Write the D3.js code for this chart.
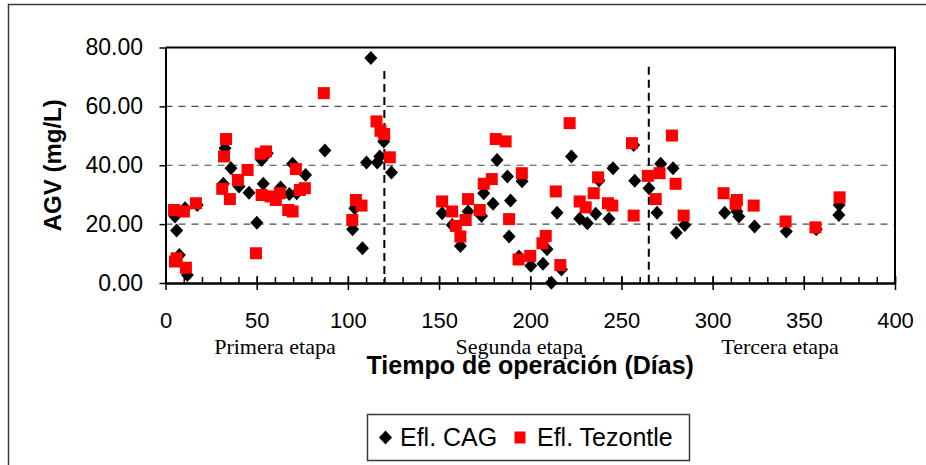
<!DOCTYPE html>
<html>
<head>
<meta charset="utf-8">
<script src="https://cdn.jsdelivr.net/npm/d3@7"></script>
<style>
    body { margin: 0; background: #fff; }
    svg { display: block; }
</style>
</head>
<body>
<svg id="chart" width="926" height="465"></svg>
<script>
// Efl. CAG (black diamonds) : [dias, AGV mg/L]
var cag = [
    [5.2, 22.6], [6.1, 17.8], [7.6, 9.5], [10.7, 25.4], [12.0, 2.7], [17.4, 26.5],
    [31.7, 33.7], [32.6, 45.8], [35.9, 39.0], [40.3, 32.8], [45.8, 30.7], [50.1, 20.5],
    [52.7, 41.8], [53.6, 33.7], [55.8, 44.1], [63.1, 32.4], [67.9, 30.2], [69.7, 40.5],
    [71.9, 30.5], [76.8, 36.7], [87.4, 45.0],
    [102.6, 18.3], [103.8, 25.4], [108.0, 11.8], [110.2, 40.9], [112.6, 76.4], [116.1, 40.9],
    [117.5, 43.0], [119.7, 48.1], [123.9, 37.5],
    [151.7, 23.7], [157.2, 19.7], [161.7, 12.6], [165.9, 24.3], [173.3, 22.8], [174.5, 30.5],
    [179.6, 26.9], [181.8, 41.8], [187.5, 36.2], [188.4, 15.8], [189.2, 28.0], [193.8, 9.0],
    [195.5, 34.6], [200.3, 5.9], [207.0, 6.5], [209.2, 11.5], [211.6, 0.1], [214.7, 23.9],
    [217.1, 4.6], [222.6, 43.0], [227.1, 21.8], [231.3, 20.3], [235.9, 23.5], [237.7, 34.8],
    [243.2, 21.8], [245.4, 39.0], [256.7, 46.9], [257.3, 34.7], [265.1, 32.2], [269.5, 23.9],
    [271.5, 40.5], [278.3, 39.0], [280.1, 17.1], [284.7, 19.7],
    [306.6, 23.9], [313.3, 24.3], [314.4, 22.6], [323.0, 19.2], [340.4, 17.5], [356.8, 18.3],
    [369.2, 23.1], [369.4, 26.5]
];

// Efl. Tezontle (red squares)
var tez = [
    [4.7, 24.8], [5.2, 7.3], [6.1, 8.4], [10.1, 24.3], [11.2, 5.2], [16.7, 27.1],
    [31.1, 32.0], [32.1, 43.0], [33.2, 48.9], [35.3, 28.5], [39.7, 35.0], [45.0, 38.4],
    [49.6, 10.1], [52.2, 43.9], [52.7, 29.9], [55.1, 44.7], [57.6, 29.4], [60.5, 28.2],
    [62.7, 30.5], [67.3, 24.8], [69.7, 24.3], [71.5, 38.7], [73.7, 31.6], [76.4, 32.2],
    [86.8, 64.5],
    [102.4, 21.4], [104.4, 28.2], [107.5, 26.3], [115.7, 54.9], [117.9, 51.7], [119.9, 50.6],
    [123.0, 42.7],
    [151.7, 27.7], [157.2, 24.3], [159.2, 19.4], [161.7, 15.8], [164.6, 21.4], [165.9, 28.5],
    [172.3, 24.8], [174.5, 33.7], [178.9, 35.3], [181.1, 48.9], [186.5, 48.1], [188.4, 21.7],
    [193.6, 8.0], [195.4, 37.3], [200.0, 9.2], [206.7, 13.5], [208.5, 16.0], [214.0, 31.1],
    [216.5, 6.1], [221.6, 54.3], [227.1, 27.7], [230.4, 25.7], [234.8, 30.5], [237.2, 35.9],
    [242.6, 27.1], [245.0, 26.3], [255.8, 47.5], [256.7, 22.9], [264.5, 36.4], [268.8, 28.5],
    [270.9, 37.3], [277.7, 50.1], [279.7, 33.7], [284.1, 22.9],
    [306.0, 30.5], [312.6, 26.9], [313.3, 28.2], [322.5, 26.3], [340.0, 20.9], [356.4, 18.9],
    [369.6, 29.1]
];

var xTicks = [0, 50, 100, 150, 200, 250, 300, 350, 400];
var yTicks = [0, 20, 40, 60, 80];
var gridValues = [20, 40, 60];
// stage separators (dias) and where their dashes start (AGV)
var stageLines = [[120, 72], [265, 73.5]];
var stageLabels = [["Primera etapa", 60], ["Segunda etapa", 194], ["Tercera etapa", 337]];
var seriesNames = ["Efl. CAG", "Efl. Tezontle"];

var svg = d3.select("#chart");

var margin = {top: 47.5, right: 31, bottom: 182, left: 165.5};
var W = 926, H = 465;

var xscale = d3.scaleLinear().domain([0, 400]).range([margin.left, W - margin.right]);
var yscale = d3.scaleLinear().domain([0, 80]).range([H - margin.bottom, margin.top]);

// outer chart frame (cut by the picture edge on right/bottom)
svg.append("rect")
    .attr("x", 8.5).attr("y", 4.5)
    .attr("width", 1000).attr("height", 600)
    .attr("fill", "none")
    .attr("stroke", "#3a3a3a")
    .attr("stroke-width", 1.5);

// horizontal dashed gridlines
svg.append("g").selectAll("line")
    .data(gridValues)
    .join("line")
    .attr("x1", xscale(0)).attr("x2", xscale(400))
    .attr("y1", d => yscale(d)).attr("y2", d => yscale(d))
    .attr("stroke", "#4a4a4a")
    .attr("stroke-width", 1.2)
    .attr("stroke-dasharray", "7,6");

// top and right plot borders
svg.append("path")
    .attr("d", "M" + xscale(0) + "," + yscale(80) + "H" + xscale(400) + "V" + yscale(0))
    .attr("fill", "none")
    .attr("stroke", "#000")
    .attr("stroke-width", 2);

// stage separators
svg.append("g").selectAll("line")
    .data(stageLines)
    .join("line")
    .attr("x1", d => xscale(d[0])).attr("x2", d => xscale(d[0]))
    .attr("y1", d => yscale(d[1])).attr("y2", yscale(0))
    .attr("stroke", "#000")
    .attr("stroke-width", 2)
    .attr("stroke-dasharray", "8,5");

// y axis
var yAxis = d3.axisLeft(yscale)
    .tickValues(yTicks)
    .tickFormat(d3.format(".2f"))
    .tickSize(6)
    .tickSizeOuter(0)
    .tickPadding(16.5);
var gY = svg.append("g")
    .attr("transform", "translate(" + xscale(0) + ",0)")
    .call(yAxis);
gY.select(".domain").attr("stroke-width", 2);
gY.selectAll(".tick line").attr("stroke-width", 1.5);
gY.selectAll("text")
    .attr("font-family", "Liberation Sans, Arial, sans-serif")
    .attr("font-size", 23)
    .attr("fill", "#000");

// x axis: minor ticks (inside) every 10
var xMinor = d3.axisTop(xscale)
    .tickValues(d3.range(0, 401, 10))
    .tickFormat("")
    .tickSize(6)
    .tickSizeOuter(0);
svg.append("g")
    .attr("transform", "translate(0," + yscale(0) + ")")
    .call(xMinor)
    .call(g => g.select(".domain").remove())
    .selectAll("line").attr("stroke-width", 1.5);

// x axis: major ticks crossing the axis
var xAxis = d3.axisBottom(xscale)
    .tickValues(xTicks)
    .tickSize(7)
    .tickSizeOuter(0);
var gX = svg.append("g")
    .attr("transform", "translate(0," + yscale(0) + ")")
    .call(xAxis);
gX.select(".domain").attr("stroke-width", 2.5);
gX.selectAll(".tick line").attr("y1", -7).attr("stroke-width", 1.5);
gX.selectAll("text")
    .attr("y", 29.5)
    .attr("font-family", "Liberation Sans, Arial, sans-serif")
    .attr("font-size", 22)
    .attr("fill", "#000");

// stage names under the axis
svg.append("g").selectAll("text")
    .data(stageLabels)
    .join("text")
    .attr("x", d => xscale(d[1]))
    .attr("y", 354)
    .attr("text-anchor", "middle")
    .attr("font-family", "Liberation Serif, Times New Roman, serif")
    .attr("font-size", 22)
    .text(d => d[0]);

// axis titles
svg.append("text")
    .attr("x", (xscale(0) + xscale(400)) / 2)
    .attr("y", 374)
    .attr("text-anchor", "middle")
    .attr("font-family", "Liberation Sans, Arial, sans-serif")
    .attr("font-weight", "bold")
    .attr("font-size", 25)
    .text("Tiempo de operación (Días)");

svg.append("text")
    .attr("transform", "translate(61," + (yscale(0) + yscale(80)) / 2 + ") rotate(-90)")
    .attr("text-anchor", "middle")
    .attr("font-family", "Liberation Sans, Arial, sans-serif")
    .attr("font-weight", "bold")
    .attr("font-size", 24)
    .text("AGV (mg/L)");

// markers
var diamond = "M0,-7L6.5,0L0,7L-6.5,0Z";
svg.append("g").selectAll("path")
    .data(cag)
    .join("path")
    .attr("transform", d => "translate(" + xscale(d[0]) + "," + yscale(d[1]) + ")")
    .attr("d", diamond)
    .attr("fill", "#000");

svg.append("g").selectAll("rect")
    .data(tez)
    .join("rect")
    .attr("x", d => xscale(d[0]) - 6)
    .attr("y", d => yscale(d[1]) - 6)
    .attr("width", 12).attr("height", 12)
    .attr("fill", "#ff0000");

// legend
var leg = svg.append("g").attr("transform", "translate(367.5,414.5)");
leg.append("rect")
    .attr("width", 322).attr("height", 46)
    .attr("fill", "#fff")
    .attr("stroke", "#3a3a3a")
    .attr("stroke-width", 1.5);
leg.append("path")
    .attr("transform", "translate(18,23)")
    .attr("d", "M0,-7L6.5,0L0,7L-6.5,0Z")
    .attr("fill", "#000");
leg.append("rect")
    .attr("x", 147).attr("y", 17)
    .attr("width", 11).attr("height", 12)
    .attr("fill", "#ff0000");
leg.selectAll("text")
    .data(seriesNames)
    .join("text")
    .attr("x", (d, i) => i == 0 ? 32.5 : 169.5)
    .attr("y", 31.5)
    .attr("font-family", "Liberation Sans, Arial, sans-serif")
    .attr("font-size", 25)
    .text(d => d);
</script>
</body>
</html>
